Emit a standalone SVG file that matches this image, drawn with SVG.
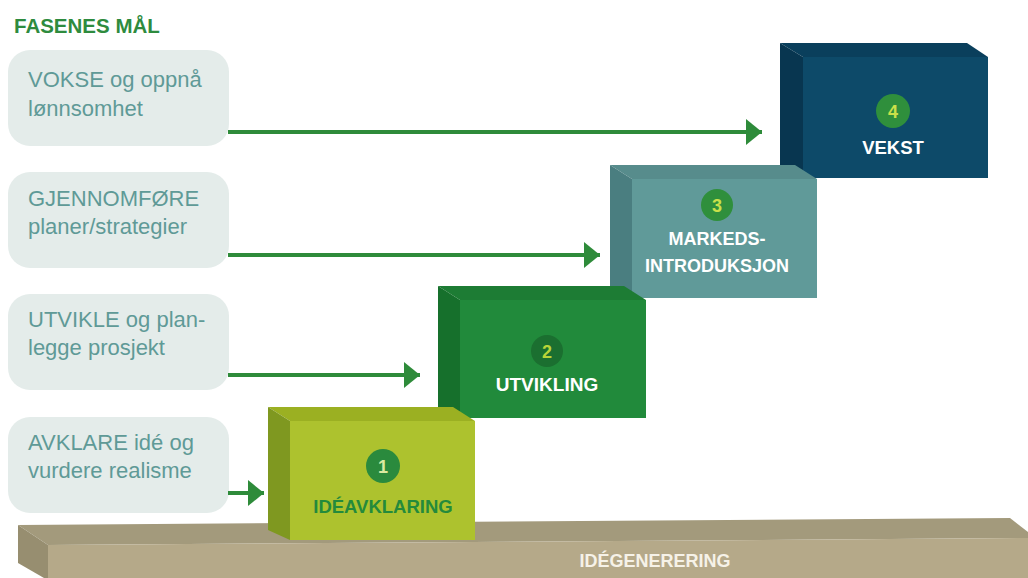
<svg xmlns="http://www.w3.org/2000/svg" width="1028" height="578" viewBox="0 0 1028 578">
<defs>
<style>
.goal{fill:#e4ecea}
.gt{font-family:"Liberation Sans",Arial,sans-serif;font-size:22px;fill:#5f9a97}
.lbl{font-family:"Liberation Sans",Arial,sans-serif;font-weight:bold;text-anchor:middle}
.num{font-family:"Liberation Sans",Arial,sans-serif;font-weight:bold;font-size:18px;text-anchor:middle}
.conn{stroke:#2e8b3a;stroke-width:4;fill:none;marker-end:url(#ah)}
</style>
<marker id="ah" markerUnits="userSpaceOnUse" markerWidth="18" markerHeight="28" refX="16" refY="13" orient="auto">
<path d="M0,0 L16,13 L0,26 Z" fill="#2e8b3a"/>
</marker>
</defs>
<rect width="1028" height="578" fill="#ffffff"/>
<text x="14" y="33" font-family="Liberation Sans,Arial,sans-serif" font-weight="bold" font-size="20.5" fill="#2e8b3e">FASENES MÅL</text>

<g id="goal-vokse">
<rect class="goal" x="8" y="50" width="221" height="96" rx="22"/>
<text class="gt" x="28" y="87">VOKSE og oppnå</text>
<text class="gt" x="28" y="116">lønnsomhet</text>
</g>
<g id="goal-gjennomfore">
<rect class="goal" x="8" y="172" width="221" height="96" rx="22"/>
<text class="gt" x="28" y="206">GJENNOMFØRE</text>
<text class="gt" x="28" y="234">planer/strategier</text>
</g>
<g id="goal-utvikle">
<rect class="goal" x="8" y="294" width="221" height="96" rx="22"/>
<text class="gt" x="28" y="327">UTVIKLE og plan-</text>
<text class="gt" x="28" y="355">legge prosjekt</text>
</g>
<g id="goal-avklare">
<rect class="goal" x="8" y="417" width="221" height="96" rx="22"/>
<text class="gt" x="28" y="450">AVKLARE idé og</text>
<text class="gt" x="28" y="478">vurdere realisme</text>
</g>

<g id="connectors">
<line class="conn" x1="228" y1="132" x2="762" y2="132"/>
<line class="conn" x1="228" y1="255" x2="600" y2="255"/>
<line class="conn" x1="228" y1="375" x2="420" y2="375"/>
<line class="conn" x1="228" y1="493" x2="264" y2="493"/>
</g>

<g id="base-idegenerering">
<polygon points="18,525 1010,518 1028,532 1028,538 48,545" fill="#a39a7c"/>
<polygon points="48,545 1028,538 1028,578 48,578" fill="#b5a989"/>
<polygon points="18,525 48,545 48,578 44,578 18,563" fill="#978e70"/>
<text class="lbl" x="655" y="567" font-size="18" fill="#f6f2e8">IDÉGENERERING</text>
</g>

<g id="phase-4-vekst">
<polygon points="780,43 967,43 988,57 803,57" fill="#0a3f5c"/>
<polygon points="780,43 803,57 803,178 780,170" fill="#083650"/>
<rect x="803" y="57" width="185" height="121" fill="#0d4a69"/>
<circle cx="893" cy="111" r="17" fill="#2f8f3c"/>
<text class="num" x="893" y="118" fill="#c9e04a">4</text>
<text class="lbl" x="893" y="154" font-size="18.5" fill="#ffffff">VEKST</text>
</g>

<g id="phase-3-markedsintroduksjon">
<polygon points="610,165 795,165 817,179 632,179" fill="#578c8c"/>
<polygon points="610,165 632,179 632,298 610,290" fill="#4a7e80"/>
<rect x="632" y="179" width="185" height="119" fill="#609a99"/>
<circle cx="717" cy="205" r="16" fill="#2f8f3c"/>
<text class="num" x="717" y="212" fill="#c9e04a">3</text>
<text class="lbl" x="717" y="245" font-size="18" fill="#ffffff">MARKEDS-</text>
<text class="lbl" x="717" y="272" font-size="18" fill="#ffffff">INTRODUKSJON</text>
</g>

<g id="phase-2-utvikling">
<polygon points="438,286 624,286 646,300 460,300" fill="#1d7c34"/>
<polygon points="438,286 460,300 460,418 438,410" fill="#16702c"/>
<rect x="460" y="300" width="186" height="118" fill="#218a3b"/>
<circle cx="547" cy="351" r="16" fill="#1b6f30"/>
<text class="num" x="547" y="358" fill="#b8d438">2</text>
<text class="lbl" x="547" y="391" font-size="19" fill="#ffffff">UTVIKLING</text>
</g>

<g id="phase-1-ideavklaring">
<polygon points="268,407 453,407 475,421 290,421" fill="#9bb022"/>
<polygon points="268,407 290,421 290,540 268,530" fill="#7f9820"/>
<rect x="290" y="421" width="185" height="119" fill="#adc22e"/>
<circle cx="383" cy="466" r="17" fill="#2a8a3d"/>
<text class="num" x="383" y="473" fill="#dbeaa0">1</text>
<text class="lbl" x="383" y="513" font-size="18.5" fill="#248a3c">IDÉAVKLARING</text>
</g>
</svg>
